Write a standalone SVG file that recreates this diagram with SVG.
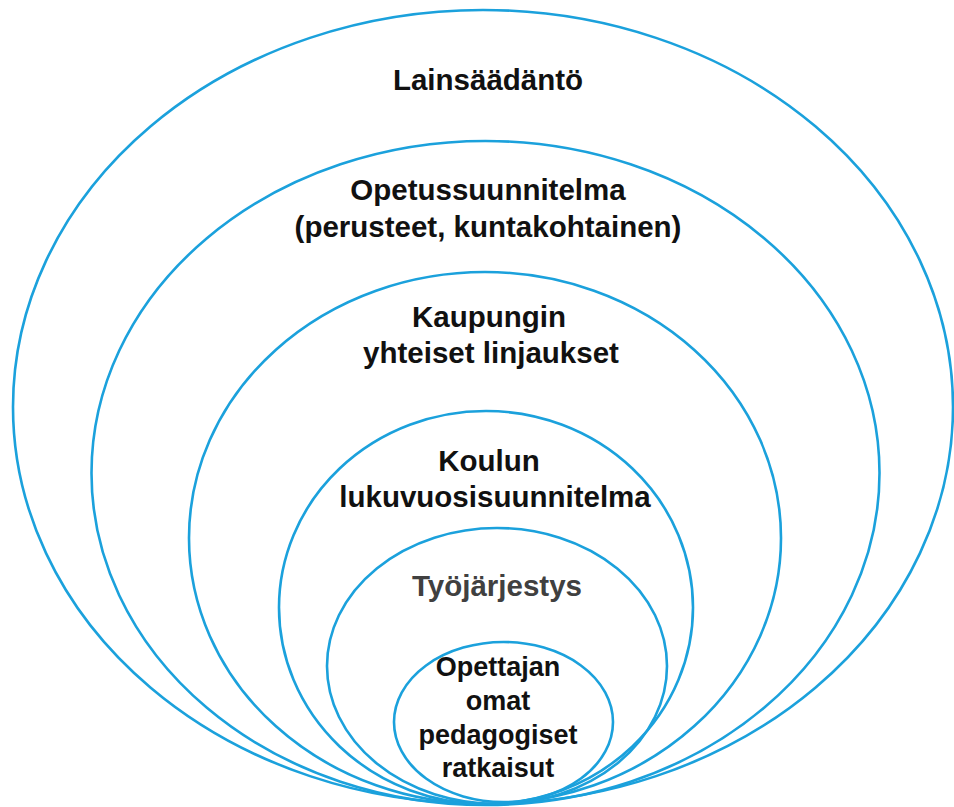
<svg xmlns="http://www.w3.org/2000/svg" width="954" height="807" viewBox="0 0 954 807">
<style>
.ring{fill:none;stroke:#1ba1dc;stroke-width:2.6}
.t{font-family:"Liberation Sans",Arial,sans-serif;font-weight:bold;font-size:29.5px;fill:#111;text-anchor:middle}
.g{fill:#404040}
.s{font-size:27px}
</style>
<rect width="954" height="807" fill="#fff"/>
<g id="n1"><ellipse class="ring" cx="483" cy="407" rx="470" ry="397"/><text class="t" x="488" y="90">Lainsäädäntö</text></g>
<g id="n2"><ellipse class="ring" cx="485.5" cy="473" rx="394" ry="332"/><text class="t" x="488" y="200">Opetussuunnitelma</text><text class="t" x="488" y="237">(perusteet, kuntakohtainen)</text></g>
<g id="n3"><ellipse class="ring" cx="485" cy="538" rx="296" ry="266"/><text class="t" x="489" y="327">Kaupungin</text><text class="t" x="491" y="363">yhteiset linjaukset</text></g>
<g id="n4"><ellipse class="ring" cx="486" cy="607.5" rx="207" ry="196.5"/><text class="t" x="489" y="471">Koulun</text><text class="t" x="495" y="507">lukuvuosisuunnitelma</text></g>
<g id="n5"><ellipse class="ring" cx="497" cy="666" rx="170" ry="138"/><text class="t g" x="497" y="596">Työjärjestys</text></g>
<g id="n6"><ellipse class="ring" cx="503.5" cy="722" rx="109.5" ry="80"/><text class="t s" x="498" y="676">Opettajan</text><text class="t s" x="498" y="710">omat</text><text class="t s" x="498" y="744">pedagogiset</text><text class="t s" x="498" y="777">ratkaisut</text></g>
<g id="connectors"></g>
</svg>
